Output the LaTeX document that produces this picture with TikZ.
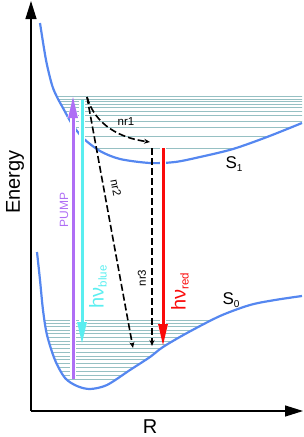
\documentclass[tikz,border=0pt]{standalone}
\usepackage{fontspec}
\setmainfont{Liberation Sans}
\usepackage{tikz}
\usetikzlibrary{arrows.meta}
\definecolor{curveblue}{RGB}{85,135,240}
\definecolor{levelgrey}{RGB}{150,192,195}
\definecolor{pumppurple}{RGB}{175,110,245}
\definecolor{bluecyan}{RGB}{90,238,240}
\definecolor{redline}{RGB}{250,10,10}
\tikzset{
  axis/.style={line width=1.2pt, -{Triangle[length=18pt,width=11pt]}},
  level/.style={draw=levelgrey, line width=0.9pt},
  pes/.style={draw=curveblue, line width=2.2pt},
  photon/.style={line width=3pt, preaction={draw=white, line width=5.5pt}, -{Triangle[length=22pt,width=9pt]}},
  nonrad/.style={dash pattern=on 7pt off 3pt, line width=1.6pt, -{Stealth[length=6pt,width=5pt]}},
  nrlabel/.style={font=\fontsize{11.5}{13}\selectfont, inner sep=0pt},
}
\newcommand{\photonlabel}[1]{{\fontsize{20}{22}\selectfont hν}{\fontsize{11.5}{13}\selectfont\raisebox{-3pt}{#1}}}
\newcommand{\statelabel}[1]{{\fontsize{17}{19}\selectfont S}{\fontsize{10}{11}\selectfont\raisebox{-3pt}{#1}}}

\begin{document}
\begin{tikzpicture}[x=1pt, y=-1pt]
    \useasboundingbox (0,0) rectangle (304,437);

    \begin{scope}
        \clip plot[smooth] coordinates {(40,23) (46,60) (52,85) (57,97) (63,108) (72,124) (83,138) (100,151) (120,159) (150,163) (175,162) (200,157) (233,149) (267,137) (302,123)} -- (302,0) -- (30,0) -- cycle;
        \foreach \y in {96,99,101.7,104.3,107.3,111,115.7,121,127.7,136,148.3}
            \draw[level] (30,\y) -- (304,\y);
    \end{scope}
    \begin{scope}
        \clip plot[smooth] coordinates {(37,252) (40,280) (43,310) (47,335) (55,360) (65,378) (77,386) (90,389) (107,385) (130,370) (150,357) (163,347) (187,333) (220,316) (250,305) (275,300) (302,296)} -- (302,200) -- (30,200) -- cycle;
        \foreach \i in {0,...,16}
            \draw[level] (30,{320+3.4*\i+0.02*\i*\i}) -- (304,{320+3.4*\i+0.02*\i*\i});
    \end{scope}

    \draw[pes] plot[smooth] coordinates {(40,23) (46,60) (52,85) (57,97) (63,108) (72,124) (83,138) (100,151) (120,159) (150,163) (175,162) (200,157) (233,149) (267,137) (302,123)};
    \draw[pes] plot[smooth] coordinates {(37,252) (40,280) (43,310) (47,335) (55,360) (65,378) (77,386) (90,389) (107,385) (130,370) (150,357) (163,347) (187,333) (220,316) (250,305) (275,300) (302,296)};

    \coordinate (origin) at (31,411);
    \coordinate (etop) at (31,1);
    \coordinate (rend) at (303,411);
    \draw[axis] (origin) -- (etop);
    \draw[axis] (origin) -- (rend);
    \node[rotate=90, font=\fontsize{20}{22}\selectfont] (energy) at (15,182) {Energy};
    \node[font=\fontsize{20}{22}\selectfont] (rlabel) at (150,427) {R};

    \coordinate (pumpfrom) at (73,379);
    \coordinate (pumpto) at (73,96);
    \coordinate (bluefrom) at (82,100);
    \coordinate (blueto) at (82,344);
    \coordinate (hot) at (87,97);
    \coordinate (nronea) at (150,142);
    \coordinate (nrtwob) at (133,348);
    \coordinate (nrthreea) at (152,148);
    \coordinate (nrthreeb) at (152,346);
    \coordinate (redfrom) at (163,148);
    \coordinate (redto) at (163,346);

    \draw[photon, pumppurple] (pumpfrom) -- (pumpto);
    \draw[photon, bluecyan] (bluefrom) -- (blueto);
    \draw[photon, redline] (redfrom) -- (redto);
    \draw[nonrad] (hot) .. controls (95,125) and (120,138) .. (nronea);
    \draw[nonrad] (hot) -- (nrtwob);
    \draw[nonrad] (nrthreea) -- (nrthreeb);

    \node[rotate=90, text=pumppurple, font=\fontsize{12}{14}\selectfont, inner sep=0pt] (pump) at (64,210) {PUMP};
    \node[rotate=90, text=bluecyan, inner sep=0pt] (hnublue) at (98,287) {\photonlabel{blue}};
    \node[rotate=90, text=redline, inner sep=0pt] (hnured) at (180,292) {\photonlabel{red}};
    \node[nrlabel] (nrone) at (126,122) {nr1};
    \node[nrlabel, rotate=-79] (nrtwo) at (116,188) {nr2};
    \node[nrlabel, rotate=90] (nrthree) at (142,278) {nr3};
    \node[inner sep=0pt] (sone) at (234,164) {\statelabel{1}};
    \node[inner sep=0pt] (szero) at (231,300) {\statelabel{0}};
\end{tikzpicture}
\end{document}
